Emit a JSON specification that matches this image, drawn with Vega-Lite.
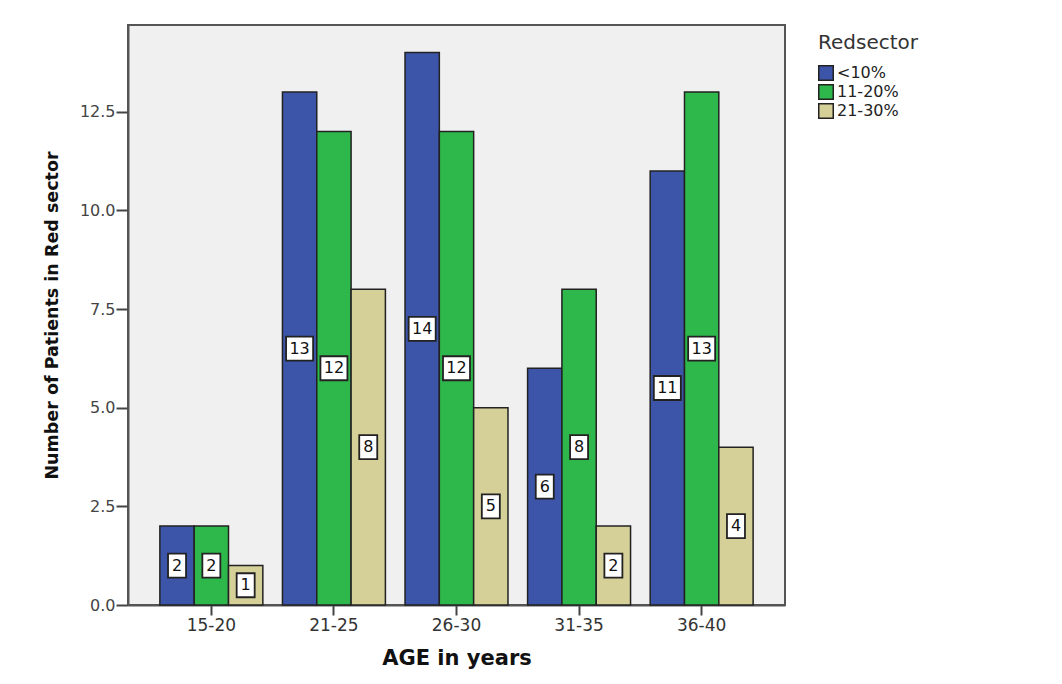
{
  "$schema": "https://vega.github.io/schema/vega-lite/v6.json",
  "width": 657,
  "height": 580,
  "autosize": {"type": "none"},
  "padding": {"left": 128, "top": 25, "right": 277, "bottom": 79},
  "background": "white",
  "config": {
    "font": "DejaVu Sans",
    "view": {"fill": "#f0f0f0", "stroke": "#555555", "strokeWidth": 2}
  },
  "data": {
    "values": [
      {"age": "15-20", "sector": "<10%", "count": 2},
      {"age": "15-20", "sector": "11-20%", "count": 2},
      {"age": "15-20", "sector": "21-30%", "count": 1},
      {"age": "21-25", "sector": "<10%", "count": 13},
      {"age": "21-25", "sector": "11-20%", "count": 12},
      {"age": "21-25", "sector": "21-30%", "count": 8},
      {"age": "26-30", "sector": "<10%", "count": 14},
      {"age": "26-30", "sector": "11-20%", "count": 12},
      {"age": "26-30", "sector": "21-30%", "count": 5},
      {"age": "31-35", "sector": "<10%", "count": 6},
      {"age": "31-35", "sector": "11-20%", "count": 8},
      {"age": "31-35", "sector": "21-30%", "count": 2},
      {"age": "36-40", "sector": "<10%", "count": 11},
      {"age": "36-40", "sector": "11-20%", "count": 13},
      {"age": "36-40", "sector": "21-30%", "count": 4}
    ]
  },
  "encoding": {
    "x": {
      "field": "age",
      "type": "nominal",
      "sort": ["15-20", "21-25", "26-30", "31-35", "36-40"],
      "scale": {"paddingInner": 0.16, "paddingOuter": 0.26},
      "axis": {
        "title": "AGE in years",
        "labelAngle": 0,
        "labelFontSize": 17,
        "labelColor": "#333333",
        "labelPadding": 2,
        "tickSize": 10,
        "tickWidth": 2,
        "tickColor": "#444444",
        "domainColor": "#555555",
        "domainWidth": 2,
        "titleFontSize": 21,
        "titleFontWeight": "bold",
        "titleColor": "#111111",
        "titlePadding": 14
      }
    },
    "xOffset": {
      "field": "sector",
      "type": "nominal",
      "sort": ["<10%", "11-20%", "21-30%"],
      "scale": {"paddingInner": 0, "paddingOuter": 0}
    }
  },
  "layer": [
    {
      "mark": {"type": "bar", "stroke": "#222222", "strokeWidth": 1.5},
      "encoding": {
        "y": {
          "field": "count",
          "type": "quantitative",
          "scale": {"domain": [0, 14.7], "nice": false},
          "axis": {
            "title": "Number of Patients in Red sector",
            "values": [0, 2.5, 5, 7.5, 10, 12.5],
            "format": ".1f",
            "grid": false,
            "labelFontSize": 16,
            "labelColor": "#444444",
            "labelPadding": 1,
            "tickSize": 12,
            "tickWidth": 2,
            "tickColor": "#444444",
            "domainColor": "#555555",
            "domainWidth": 2,
            "titleFontSize": 17.5,
            "titleFontWeight": "bold",
            "titleColor": "#111111",
            "titlePadding": 18
          }
        },
        "color": {
          "field": "sector",
          "type": "nominal",
          "sort": ["<10%", "11-20%", "21-30%"],
          "scale": {"domain": ["<10%", "11-20%", "21-30%"], "range": ["#3c55a8", "#2eb84b", "#d5cf98"]},
          "legend": {
            "title": "Redsector",
            "orient": "none",
            "legendX": 690,
            "legendY": 8,
            "titleFontSize": 20,
            "titleFontWeight": "normal",
            "titleColor": "#333333",
            "titlePadding": 12,
            "labelFontSize": 16,
            "labelColor": "#222222",
            "labelOffset": 3,
            "symbolType": "square",
            "symbolSize": 210,
            "symbolStrokeColor": "#222222",
            "symbolStrokeWidth": 1.5,
            "symbolOpacity": 1,
            "rowPadding": -3,
            "padding": 0
          }
        }
      }
    },
    {
      "transform": [{"filter": "datum.count >= 10"}],
      "mark": {
        "type": "point",
        "shape": "M-1.125,-1L1.125,-1L1.125,1L-1.125,1Z",
        "size": 576,
        "filled": true,
        "fill": "white",
        "stroke": "#222222",
        "strokeWidth": 1.8,
        "opacity": 1
      },
      "encoding": {
        "y": {"field": "count", "type": "quantitative", "scale": {"domain": [0, 29.4], "nice": false}, "axis": null}
      }
    },
    {
      "transform": [{"filter": "datum.count < 10"}],
      "mark": {
        "type": "point",
        "shape": "M-0.75,-1L0.75,-1L0.75,1L-0.75,1Z",
        "size": 576,
        "filled": true,
        "fill": "white",
        "stroke": "#222222",
        "strokeWidth": 1.8,
        "opacity": 1
      },
      "encoding": {
        "y": {"field": "count", "type": "quantitative", "scale": {"domain": [0, 29.4], "nice": false}, "axis": null}
      }
    },
    {
      "mark": {"type": "text", "fontSize": 16, "baseline": "middle", "align": "center", "color": "#111111"},
      "encoding": {
        "y": {"field": "count", "type": "quantitative", "scale": {"domain": [0, 29.4], "nice": false}, "axis": null},
        "text": {"field": "count", "type": "quantitative"}
      }
    }
  ],
  "resolve": {"scale": {"y": "independent"}}
}
